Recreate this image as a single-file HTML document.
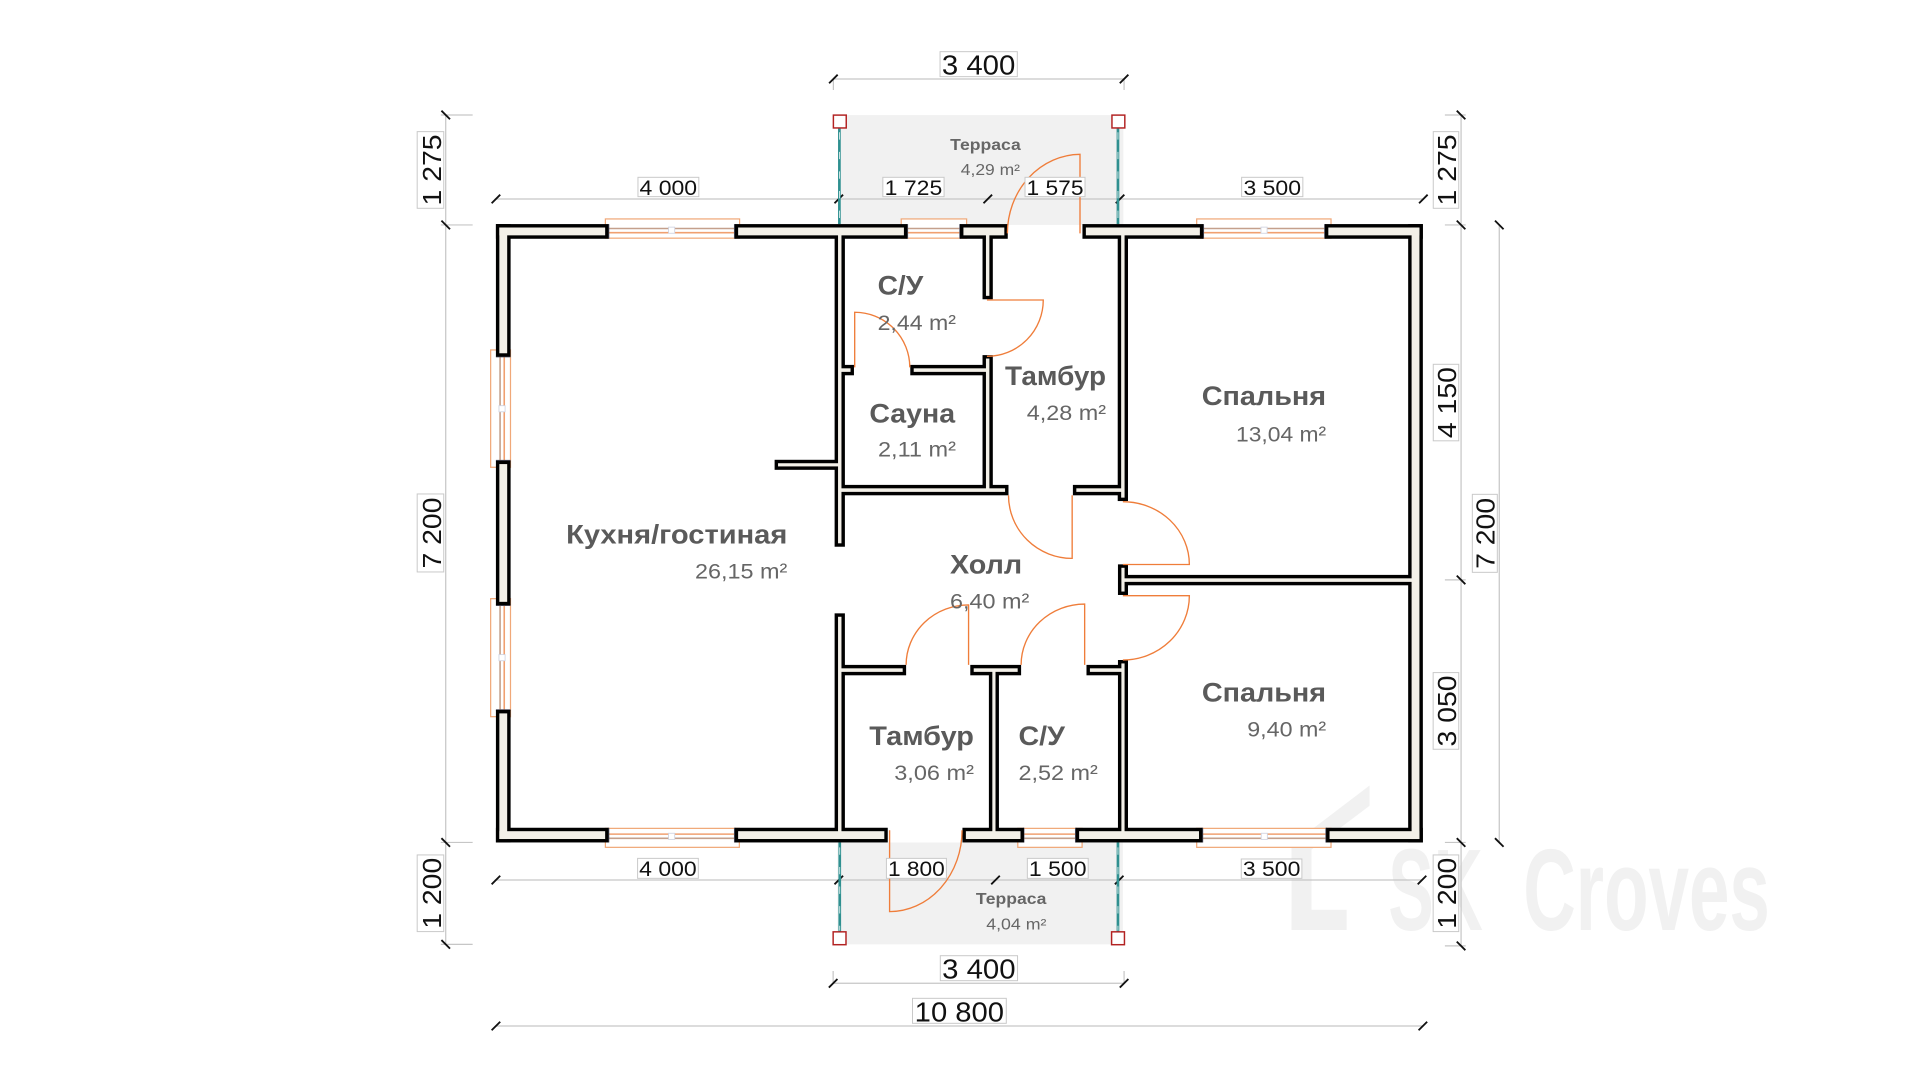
<!DOCTYPE html>
<html>
<head>
<meta charset="utf-8">
<style>
html,body{margin:0;padding:0;background:#fff;}
svg{display:block;}
text{font-family:"Liberation Sans",Arial,sans-serif;}
.rn{font-weight:bold;font-size:22px;fill:#5a5a5a;}
.ar{font-size:17px;fill:#666;}
.dm{font-size:17px;fill:#111;}
.dl{font-size:22.5px;fill:#111;}
.dv{font-size:21px;fill:#111;}
.bx{fill:#fff;stroke:#c8c8c8;stroke-width:0.8;}
</style>
</head>
<body>
<svg width="1920" height="1080" viewBox="0 0 1568 882" xmlns="http://www.w3.org/2000/svg">
<defs>
<g id="w">
<rect x="407.8" y="185.8" width="86.4" height="6.4"/>
<rect x="602.8" y="185.8" width="135.4" height="6.4"/>
<rect x="786.8" y="185.8" width="33.4" height="6.4"/>
<rect x="886.8" y="185.8" width="93.1" height="6.4"/>
<rect x="1084.8" y="185.8" width="74.4" height="6.4"/>
<rect x="407.8" y="185.8" width="6.4" height="102.7"/>
<rect x="407.8" y="379.0" width="6.4" height="112.5"/>
<rect x="407.8" y="582.6" width="6.4" height="102.6"/>
<rect x="1152.8" y="185.8" width="6.4" height="499.4"/>
<rect x="407.8" y="678.8" width="86.4" height="6.4"/>
<rect x="602.8" y="678.8" width="119.4" height="6.4"/>
<rect x="788.8" y="678.8" width="44.6" height="6.4"/>
<rect x="881.3" y="678.8" width="97.9" height="6.4"/>
<rect x="1085.8" y="678.8" width="73.4" height="6.4"/>
<rect x="684.4" y="188" width="2.8" height="255.7"/>
<rect x="635.4" y="378.3" width="50.6" height="2.6"/>
<rect x="685" y="398.8" width="135.8" height="2.9"/>
<rect x="805.2" y="188" width="2.8" height="53.6"/>
<rect x="805.2" y="292.8" width="2.8" height="108.2"/>
<rect x="746.2" y="300.8" width="60.8" height="2.9"/>
<rect x="686" y="300.8" width="8.6" height="2.9"/>
<rect x="915.6" y="188" width="2.8" height="218.4"/>
<rect x="879" y="398.8" width="38" height="2.9"/>
<rect x="915.8" y="463.7" width="2.6" height="19.4"/>
<rect x="917" y="472.3" width="239" height="2.9"/>
<rect x="915.8" y="541.8" width="2.6" height="140.2"/>
<rect x="890.1" y="545.8" width="26.9" height="2.9"/>
<rect x="795.2" y="545.8" width="35.9" height="2.9"/>
<rect x="810.4" y="546" width="2.6" height="136"/>
<rect x="686" y="545.8" width="51.2" height="2.9"/>
<rect x="684.4" y="503.7" width="2.8" height="178.3"/>
</g>
</defs>

<!-- terraces -->
<rect x="686" y="94" width="231.4" height="89.7" fill="#f1f1f1"/>
<rect x="684" y="688" width="233" height="83.2" fill="#f1f1f1"/>

<!-- watermark -->
<g fill="#f1f1f1">
<polygon points="1054.8,690 1118.5,641.5 1118.5,658 1054.8,706"/>
<rect x="1054.8" y="690" width="16.3" height="69.5"/>
<rect x="1054.8" y="743" width="45" height="16.5"/>
<text x="1133.7" y="759.5" font-family="'Liberation Sans Narrow','Liberation Sans',sans-serif" font-weight="bold" font-size="95" textLength="77.3" lengthAdjust="spacingAndGlyphs">SK</text>
<text x="1244" y="759.5" font-family="'Liberation Sans Narrow','Liberation Sans',sans-serif" font-weight="bold" font-size="95" textLength="201.4" lengthAdjust="spacingAndGlyphs">Croves</text>
</g>

<!-- dimension lines -->
<path fill="none" stroke="#c6c6c6" stroke-width="1" d="M404,162.5 H1163 M404,718.7 H1162 M680.6,64.5 H918 M680.6,64.5 V73.5 M918,64.5 V73.5 M680.4,803 H918 M680.4,793 V803 M918,793 V803 M405,837.9 H1162 M364,93.9 V771.2 M360,93.9 H386 M360,183.7 H386 M360,688 H386 M360,771.2 H386 M1193.2,93.9 V772.5 M1180,93.9 H1197 M1180,183.7 H1197 M1180,473.6 H1197 M1180,688 H1197 M1180,772.5 H1197 M1224.4,183.7 V688"/>
<path fill="none" stroke="#111" stroke-width="1.5" d="M401.5,166 L408.5,159 M681.5,166 L688.5,159 M803.2,166 L810.2,159 M911.2,166 L918.2,159 M1158.9,166 L1165.9,159 M401.5,722.2 L408.5,715.2 M681.5,722.2 L688.5,715.2 M809.5,722.2 L816.5,715.2 M910.5,722.2 L917.5,715.2 M1157.8,722.2 L1164.8,715.2 M677.1,68 L684.1,61 M914.5,68 L921.5,61 M676.9,806.5 L683.9,799.5 M914.5,806.5 L921.5,799.5 M401.5,841.4 L408.5,834.4 M1158.5,841.4 L1165.5,834.4 M360.5,90.4 L367.5,97.4 M360.5,180.2 L367.5,187.2 M360.5,684.5 L367.5,691.5 M360.5,767.7 L367.5,774.7 M1189.7,90.4 L1196.7,97.4 M1189.7,180.2 L1196.7,187.2 M1189.7,470.1 L1196.7,477.1 M1189.7,684.5 L1196.7,691.5 M1189.7,769 L1196.7,776 M1220.9,180.2 L1227.9,187.2 M1220.9,684.5 L1227.9,691.5"/>

<!-- terrace posts -->
<g stroke="#2f9090" stroke-width="2.2">
<line x1="685.5" y1="104.8" x2="685.5" y2="183"/>
<line x1="913" y1="104.8" x2="913" y2="183"/>
<line x1="685.8" y1="688" x2="685.8" y2="760.8"/>
<line x1="913" y1="688" x2="913" y2="760.8"/>
</g>
<g stroke="#ffffff" stroke-width="0.6" stroke-dasharray="6 10">
<line x1="685.5" y1="108" x2="685.5" y2="183"/>
<line x1="913" y1="108" x2="913" y2="183"/>
<line x1="685.8" y1="692" x2="685.8" y2="760"/>
<line x1="913" y1="692" x2="913" y2="760"/>
</g>
<g fill="#fff" stroke="#b22222" stroke-width="1.2">
<rect x="680.6" y="94" width="10.5" height="10.5"/>
<rect x="908.1" y="94" width="10.5" height="10.5"/>
<rect x="680.4" y="761" width="10.5" height="10.5"/>
<rect x="907.8" y="761" width="10.5" height="10.5"/>
</g>

<!-- windows -->
<g stroke-width="1">
<rect x="494.4" y="178.8" width="109.6" height="15.7" fill="#fff" stroke="#f0a878"/>
<rect x="736" y="178.8" width="53.4" height="15.7" fill="#fff" stroke="#f0a878"/>
<rect x="977.3" y="178.8" width="109.7" height="15.7" fill="#fff" stroke="#f0a878"/>
<rect x="494.4" y="676.5" width="109.4" height="15.5" fill="#fff" stroke="#f0a878"/>
<rect x="831.2" y="676.5" width="52.5" height="15.5" fill="#fff" stroke="#f0a878"/>
<rect x="977.3" y="676.5" width="109.7" height="15.5" fill="#fff" stroke="#f0a878"/>
<rect x="400.7" y="285.8" width="16.2" height="95.8" fill="#fff" stroke="#f0a878"/>
<rect x="400.7" y="488.9" width="16.2" height="96.4" fill="#fff" stroke="#f0a878"/>
</g>
<g stroke-width="1.3" fill="none">
<path stroke="#c4a08c" d="M497,186.6 H600 M741,186.6 H784 M982.7,186.6 H1082 M497,684.6 H600 M836,684.6 H878.5 M982,684.6 H1083 M408.4,291.3 V376.2 M408.4,494.3 V579.8"/>
<path stroke="#f0a070" d="M497,190 H600 M741,190 H784 M982.7,190 H1082 M497,681.2 H600 M836,681.2 H878.5 M982,681.2 H1083 M411.8,291.3 V376.2 M411.8,494.3 V579.8"/>
</g>
<g fill="#fff" stroke="#cfd3e0" stroke-width="0.7">
<rect x="546" y="185.5" width="5" height="5"/>
<rect x="1029.8" y="185.5" width="5" height="5"/>
<rect x="546" y="680.5" width="5" height="5"/>
<rect x="1030" y="680.5" width="5" height="5"/>
<rect x="407.5" y="331.3" width="5" height="5"/>
<rect x="407.5" y="534.6" width="5" height="5"/>
</g>
<g stroke="#556" stroke-width="1.2">
<path d="M497,183 V195 M600,183 V195 M741,183 V195 M784,183 V195 M982.7,183 V195 M1082,183 V195 M497,676 V688 M600,676 V688 M836,676 V688 M878.5,676 V688 M982,676 V688 M1083,676 V688 M405,291.3 H417 M405,376.2 H417 M405,494.3 H417 M405,579.8 H417"/>
</g>

<!-- walls -->
<use href="#w" fill="#000" stroke="#000" stroke-width="5.6"/>
<use href="#w" fill="#f3f0e8"/>

<!-- doors -->
<g fill="none" stroke="#ef7d3a" stroke-width="1.1">
<path d="M882,190.6 L882,126 A60,64.6 0 0 0 822.7,190.6"/>
<path d="M806,245 L852,245 A46,46 0 0 1 806,291"/>
<path d="M698,300 L698,255 A45,45 0 0 1 743,300"/>
<path d="M875.6,404.5 L875.6,456 A52,51.5 0 0 1 823.6,404.5"/>
<path d="M917,461 L971.3,461 A54.3,51.3 0 0 0 917,409.7"/>
<path d="M917,486.5 L971.3,486.5 A54.3,52.5 0 0 1 917,539"/>
<path d="M791,543 L791,494 A51,49 0 0 0 740,543"/>
<path d="M885.8,543 L885.8,493.3 A52,49.7 0 0 0 833.9,543"/>
<path d="M726.5,678 L726.5,744.5 A59.2,66.5 0 0 0 785.7,678"/>
</g>

<!-- room labels -->
<text class="rn" x="716.7" y="240.4" textLength="37.3" lengthAdjust="spacingAndGlyphs">С/У</text>
<text class="ar" x="716.7" y="269.5" textLength="64" lengthAdjust="spacingAndGlyphs">2,44 m²</text>
<text class="rn" x="710" y="345.2" textLength="70" lengthAdjust="spacingAndGlyphs">Сауна</text>
<text class="ar" x="717" y="372.9" textLength="63.7" lengthAdjust="spacingAndGlyphs">2,11 m²</text>
<text class="rn" x="820.8" y="314.4" textLength="82.5" lengthAdjust="spacingAndGlyphs">Тамбур</text>
<text class="ar" x="838.5" y="343" textLength="64.8" lengthAdjust="spacingAndGlyphs">4,28 m²</text>
<text class="rn" x="981.4" y="330.7" textLength="101.6" lengthAdjust="spacingAndGlyphs">Спальня</text>
<text class="ar" x="1009.4" y="360.7" textLength="73.6" lengthAdjust="spacingAndGlyphs">13,04 m²</text>
<text class="rn" x="462.3" y="443.7" textLength="180.7" lengthAdjust="spacingAndGlyphs">Кухня/гостиная</text>
<text class="ar" x="567.6" y="472.3" textLength="75.4" lengthAdjust="spacingAndGlyphs">26,15 m²</text>
<text class="rn" x="775.8" y="468.2" textLength="58.9" lengthAdjust="spacingAndGlyphs">Холл</text>
<text class="ar" x="775.8" y="496.8" textLength="64.8" lengthAdjust="spacingAndGlyphs">6,40 m²</text>
<text class="rn" x="709.9" y="608.4" textLength="85.5" lengthAdjust="spacingAndGlyphs">Тамбур</text>
<text class="ar" x="730.3" y="637" textLength="65.1" lengthAdjust="spacingAndGlyphs">3,06 m²</text>
<text class="rn" x="831.8" y="608.4" textLength="37.9" lengthAdjust="spacingAndGlyphs">С/У</text>
<text class="ar" x="831.8" y="637" textLength="64.8" lengthAdjust="spacingAndGlyphs">2,52 m²</text>
<text class="rn" x="981.5" y="573" textLength="101.5" lengthAdjust="spacingAndGlyphs">Спальня</text>
<text class="ar" x="1018.6" y="601.6" textLength="64.4" lengthAdjust="spacingAndGlyphs">9,40 m²</text>
<text x="775.9" y="122.5" font-size="13" font-weight="bold" fill="#666" textLength="57.7" lengthAdjust="spacingAndGlyphs">Терраса</text>
<text x="784.6" y="142.9" font-size="12.5" fill="#666" textLength="48.4" lengthAdjust="spacingAndGlyphs">4,29 m²</text>
<text x="797" y="738.3" font-size="13" font-weight="bold" fill="#666" textLength="57.6" lengthAdjust="spacingAndGlyphs">Терраса</text>
<text x="805.4" y="759" font-size="12.5" fill="#666" textLength="49.2" lengthAdjust="spacingAndGlyphs">4,04 m²</text>

<!-- dimension labels horizontal -->
<rect class="bx" x="521" y="144.8" width="49.7" height="15.8"/>
<text class="dm" x="522.3" y="159.2" textLength="47" lengthAdjust="spacingAndGlyphs">4 000</text>
<rect class="bx" x="721" y="144.8" width="50" height="15.8"/>
<text class="dm" x="722.5" y="159.2" textLength="47" lengthAdjust="spacingAndGlyphs">1 725</text>
<rect class="bx" x="837.1" y="144.8" width="49" height="15.8"/>
<text class="dm" x="838.3" y="159.2" textLength="46.6" lengthAdjust="spacingAndGlyphs">1 575</text>
<rect class="bx" x="1014" y="144.8" width="50" height="15.8"/>
<text class="dm" x="1015.5" y="159.2" textLength="47" lengthAdjust="spacingAndGlyphs">3 500</text>

<rect class="bx" x="520.7" y="701" width="49.6" height="16.3"/>
<text class="dm" x="522" y="715.6" textLength="47" lengthAdjust="spacingAndGlyphs">4 000</text>
<rect class="bx" x="723.9" y="701" width="49" height="16.3"/>
<text class="dm" x="725.2" y="715.6" textLength="46.4" lengthAdjust="spacingAndGlyphs">1 800</text>
<rect class="bx" x="839" y="701" width="49.7" height="16.3"/>
<text class="dm" x="840.3" y="715.6" textLength="47" lengthAdjust="spacingAndGlyphs">1 500</text>
<rect class="bx" x="1013.7" y="701.5" width="49.5" height="15.8"/>
<text class="dm" x="1015" y="715.6" textLength="47" lengthAdjust="spacingAndGlyphs">3 500</text>

<rect class="bx" x="767.7" y="42.2" width="63.1" height="20.4"/>
<text class="dl" x="769.2" y="61" textLength="60" lengthAdjust="spacingAndGlyphs">3 400</text>
<rect class="bx" x="767.9" y="780.5" width="63.1" height="20.4"/>
<text class="dl" x="769.4" y="799.3" textLength="60" lengthAdjust="spacingAndGlyphs">3 400</text>
<rect class="bx" x="745.2" y="815.3" width="76.6" height="20.4"/>
<text class="dl" x="747" y="834.1" textLength="73" lengthAdjust="spacingAndGlyphs">10 800</text>

<!-- dimension labels vertical -->
<rect class="bx" x="340.7" y="107.5" width="21.7" height="62.6"/>
<text class="dv" transform="translate(360,138.8) rotate(-90)" text-anchor="middle" textLength="58" lengthAdjust="spacingAndGlyphs">1 275</text>
<rect class="bx" x="340.7" y="403.4" width="21.7" height="63.7"/>
<text class="dv" transform="translate(360,435.3) rotate(-90)" text-anchor="middle" textLength="58" lengthAdjust="spacingAndGlyphs">7 200</text>
<rect class="bx" x="340.7" y="698.2" width="21.7" height="62.6"/>
<text class="dv" transform="translate(360,729.5) rotate(-90)" text-anchor="middle" textLength="58" lengthAdjust="spacingAndGlyphs">1 200</text>

<rect class="bx" x="1170.5" y="107.5" width="20.8" height="62.6"/>
<text class="dv" transform="translate(1189,138.8) rotate(-90)" text-anchor="middle" textLength="58" lengthAdjust="spacingAndGlyphs">1 275</text>
<rect class="bx" x="1170.5" y="297.5" width="20.8" height="62.5"/>
<text class="dv" transform="translate(1189,328.8) rotate(-90)" text-anchor="middle" textLength="58" lengthAdjust="spacingAndGlyphs">4 150</text>
<rect class="bx" x="1170.4" y="549.3" width="20.9" height="62.6"/>
<text class="dv" transform="translate(1189,580.6) rotate(-90)" text-anchor="middle" textLength="58" lengthAdjust="spacingAndGlyphs">3 050</text>
<rect class="bx" x="1170.4" y="698.2" width="20.9" height="62.6"/>
<text class="dv" transform="translate(1189,729.5) rotate(-90)" text-anchor="middle" textLength="58" lengthAdjust="spacingAndGlyphs">1 200</text>
<rect class="bx" x="1202.4" y="403.7" width="20.4" height="63.7"/>
<text class="dv" transform="translate(1220.6,435.6) rotate(-90)" text-anchor="middle" textLength="58" lengthAdjust="spacingAndGlyphs">7 200</text>
</svg>
</body>
</html>
